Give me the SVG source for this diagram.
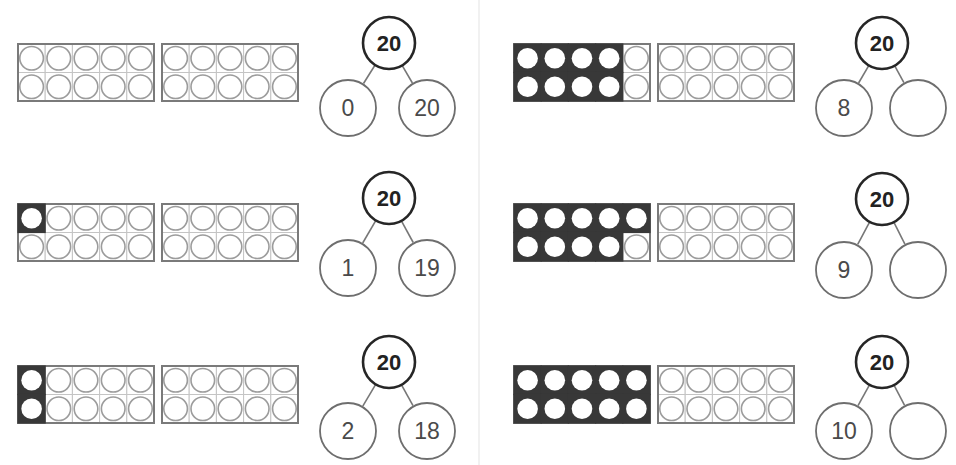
<svg xmlns="http://www.w3.org/2000/svg" xmlns:xlink="http://www.w3.org/1999/xlink" width="956" height="465" viewBox="0 0 956 465">
<style>
.top{fill:#fff;stroke:#262626;stroke-width:2.6}
.bot{fill:#fff;stroke:#6e6e6e;stroke-width:1.8}
.tt{font-family:"Liberation Sans",Arial,sans-serif;font-size:22px;font-weight:bold;fill:#222;text-anchor:middle;dominant-baseline:central}
.bt{font-family:"Liberation Sans",Arial,sans-serif;font-size:23px;fill:#4a4a4a;text-anchor:middle;dominant-baseline:central}
.con line{stroke:#777;stroke-width:1.6}
</style>
<defs>
<g id="ec"><rect width="27.2" height="28.5" fill="#fff" stroke="#c4c4c4" stroke-width="1"/><circle cx="13.6" cy="14.25" r="11.8" fill="none" stroke="#9c9c9c" stroke-width="1.6"/></g>
<g id="dc"><rect x="-0.6" y="-0.6" width="28.4" height="29.7" fill="#383838"/><circle cx="13.6" cy="14.25" r="10.3" fill="#fff"/></g>
<g id="tf">
<use xlink:href="#ec" x="0" y="0"/><use xlink:href="#ec" x="27.2" y="0"/><use xlink:href="#ec" x="54.4" y="0"/><use xlink:href="#ec" x="81.6" y="0"/><use xlink:href="#ec" x="108.8" y="0"/>
<use xlink:href="#ec" x="0" y="28.5"/><use xlink:href="#ec" x="27.2" y="28.5"/><use xlink:href="#ec" x="54.4" y="28.5"/><use xlink:href="#ec" x="81.6" y="28.5"/><use xlink:href="#ec" x="108.8" y="28.5"/>
<rect width="136" height="57" fill="none" stroke="#7a7a7a" stroke-width="2"/>
</g>
</defs>
<rect width="956" height="465" fill="#fff"/>
<line x1="479" y1="0" x2="479" y2="465" stroke="#ececec" stroke-width="1.5"/>

<!-- ten frames -->
<g id="frames-l1" transform="translate(18,44)"><use xlink:href="#tf"/><use xlink:href="#tf" x="144"/></g>
<g id="frames-l2" transform="translate(18,204)"><use xlink:href="#tf"/><use xlink:href="#tf" x="144"/><use xlink:href="#dc" x="0" y="0"/></g>
<g id="frames-l3" transform="translate(18,366)"><use xlink:href="#tf"/><use xlink:href="#tf" x="144"/><use xlink:href="#dc" x="0" y="0"/><use xlink:href="#dc" x="0" y="28.5"/></g>
<g id="frames-r1" transform="translate(514,44)"><use xlink:href="#tf"/><use xlink:href="#tf" x="144"/>
<use xlink:href="#dc" x="0" y="0"/><use xlink:href="#dc" x="27.2" y="0"/><use xlink:href="#dc" x="54.4" y="0"/><use xlink:href="#dc" x="81.6" y="0"/>
<use xlink:href="#dc" x="0" y="28.5"/><use xlink:href="#dc" x="27.2" y="28.5"/><use xlink:href="#dc" x="54.4" y="28.5"/><use xlink:href="#dc" x="81.6" y="28.5"/></g>
<g id="frames-r2" transform="translate(514,204)"><use xlink:href="#tf"/><use xlink:href="#tf" x="144"/>
<use xlink:href="#dc" x="0" y="0"/><use xlink:href="#dc" x="27.2" y="0"/><use xlink:href="#dc" x="54.4" y="0"/><use xlink:href="#dc" x="81.6" y="0"/><use xlink:href="#dc" x="108.8" y="0"/>
<use xlink:href="#dc" x="0" y="28.5"/><use xlink:href="#dc" x="27.2" y="28.5"/><use xlink:href="#dc" x="54.4" y="28.5"/><use xlink:href="#dc" x="81.6" y="28.5"/></g>
<g id="frames-r3" transform="translate(514,366)"><use xlink:href="#tf"/><use xlink:href="#tf" x="144"/>
<use xlink:href="#dc" x="0" y="0"/><use xlink:href="#dc" x="27.2" y="0"/><use xlink:href="#dc" x="54.4" y="0"/><use xlink:href="#dc" x="81.6" y="0"/><use xlink:href="#dc" x="108.8" y="0"/>
<use xlink:href="#dc" x="0" y="28.5"/><use xlink:href="#dc" x="27.2" y="28.5"/><use xlink:href="#dc" x="54.4" y="28.5"/><use xlink:href="#dc" x="81.6" y="28.5"/><use xlink:href="#dc" x="108.8" y="28.5"/></g>

<!-- connectors -->
<g id="connectors" class="con">
<line x1="375.1" y1="65" x2="363.5" y2="83.5"/><line x1="402.1" y1="65.4" x2="412.4" y2="83"/>
<line x1="375.9" y1="220.4" x2="362.7" y2="243"/><line x1="401.4" y1="220.9" x2="413.2" y2="242.5"/>
<line x1="375.7" y1="384.4" x2="362.8" y2="406.1"/><line x1="401.5" y1="384.8" x2="413" y2="405.6"/>
<line x1="868.9" y1="65.4" x2="858.6" y2="83"/><line x1="894.6" y1="65.7" x2="903.9" y2="82.6"/>
<line x1="869.7" y1="221.9" x2="857.7" y2="244.4"/><line x1="893.8" y1="222.2" x2="904.9" y2="244.1"/>
<line x1="869.5" y1="384.8" x2="858" y2="405.6"/><line x1="894" y1="385.1" x2="904.6" y2="405.3"/>
</g>

<!-- number bonds left -->
<g id="bond-l1-whole"><circle class="top" cx="389" cy="43" r="26"/><text class="tt" x="389" y="43">20</text></g>
<g id="bond-l1-a"><circle class="bot" cx="348" cy="108" r="28"/><text class="bt" x="348" y="108">0</text></g>
<g id="bond-l1-b"><circle class="bot" cx="427" cy="108" r="28"/><text class="bt" x="427" y="108">20</text></g>

<g id="bond-l2-whole"><circle class="top" cx="389" cy="198" r="26"/><text class="tt" x="389" y="198">20</text></g>
<g id="bond-l2-a"><circle class="bot" cx="348" cy="268" r="28"/><text class="bt" x="348" y="268">1</text></g>
<g id="bond-l2-b"><circle class="bot" cx="427" cy="268" r="28"/><text class="bt" x="427" y="268">19</text></g>

<g id="bond-l3-whole"><circle class="top" cx="389" cy="362" r="26"/><text class="tt" x="389" y="362">20</text></g>
<g id="bond-l3-a"><circle class="bot" cx="348" cy="431" r="28"/><text class="bt" x="348" y="431">2</text></g>
<g id="bond-l3-b"><circle class="bot" cx="427" cy="431" r="28"/><text class="bt" x="427" y="431">18</text></g>

<!-- number bonds right -->
<g id="bond-r1-whole"><circle class="top" cx="882" cy="43" r="26"/><text class="tt" x="882" y="43">20</text></g>
<g id="bond-r1-a"><circle class="bot" cx="844" cy="108" r="28"/><text class="bt" x="844" y="108">8</text></g>
<g id="bond-r1-b"><circle class="bot" cx="918" cy="108" r="28"/></g>

<g id="bond-r2-whole"><circle class="top" cx="882" cy="199" r="26"/><text class="tt" x="882" y="199">20</text></g>
<g id="bond-r2-a"><circle class="bot" cx="844" cy="270" r="28"/><text class="bt" x="844" y="270">9</text></g>
<g id="bond-r2-b"><circle class="bot" cx="918" cy="270" r="28"/></g>

<g id="bond-r3-whole"><circle class="top" cx="882" cy="362" r="26"/><text class="tt" x="882" y="362">20</text></g>
<g id="bond-r3-a"><circle class="bot" cx="844" cy="431" r="28"/><text class="bt" x="844" y="431">10</text></g>
<g id="bond-r3-b"><circle class="bot" cx="918" cy="431" r="28"/></g>
</svg>
